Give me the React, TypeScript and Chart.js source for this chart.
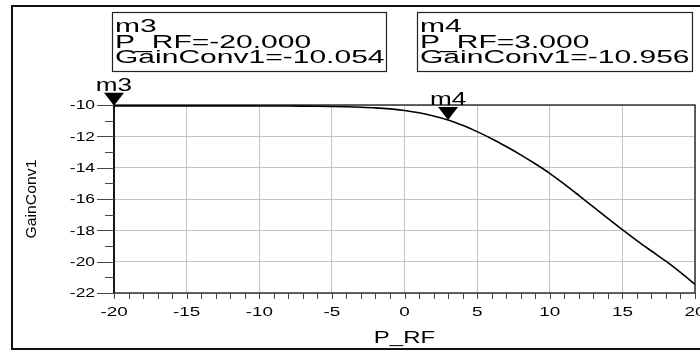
import { useEffect, useRef } from "react";
import { Chart, registerables } from "chart.js";

Chart.register(...registerables);

// Swept input power (dBm) and resulting conversion gain (dB)
const pRf = [
  -20, -19, -18, -17, -16, -15, -14, -13, -12, -11, -10, -9, -8, -7, -6, -5, -4, -3, -2, -1, 0,
  1, 2, 3, 4, 5, 6, 7, 8, 9, 10, 11, 12, 13, 14, 15, 16, 17, 18, 19, 20,
];
const gainConv1 = [
  -10.054, -10.054, -10.054, -10.054, -10.054, -10.055, -10.055, -10.056, -10.057, -10.058,
  -10.06, -10.062, -10.066, -10.072, -10.08, -10.093, -10.112, -10.14, -10.182, -10.25, -10.355,
  -10.5, -10.7, -10.956, -11.3, -11.7, -12.15, -12.65, -13.18, -13.75, -14.36, -15.05, -15.77,
  -16.5, -17.23, -17.96, -18.66, -19.32, -19.97, -20.69, -21.45,
];

// Markers placed on the trace
const markerNames = ["m3", "m4"];
const markerX = [-20, 3];
const markerY = [-10.054, -10.956];

// Axis ticks
const xTickValues = [-20, -15, -10, -5, 0, 5, 10, 15, 20];
const xMinorStep = 1;
const yTickValues = [-10, -12, -14, -16, -18, -20, -22];
const yMinorStep = 1;

const xTitle = "P_RF";
const yTitle = "GainConv1";

const FONT = '"Liberation Sans", Arial, sans-serif';

function wideText(
  ctx: CanvasRenderingContext2D,
  text: string,
  x: number,
  y: number,
  size: number,
  sx: number,
  align: CanvasTextAlign,
  baseline: CanvasTextBaseline = "alphabetic"
) {
  ctx.save();
  ctx.translate(x, y);
  ctx.scale(sx, 1);
  ctx.font = `${size}px ${FONT}`;
  ctx.textAlign = align;
  ctx.textBaseline = baseline;
  ctx.fillStyle = "#000";
  ctx.fillText(text, 0, 0);
  ctx.restore();
}

const decorations = {
  id: "adsDecorations",
  beforeDatasetsDraw(chart: any) {
    const { ctx, chartArea: a } = chart;
    ctx.save();
    ctx.strokeStyle = "#333";
    ctx.lineWidth = 1.5;
    ctx.strokeRect(a.left, a.top, a.right - a.left, a.bottom - a.top);
    ctx.restore();
  },
  afterDraw(chart: any) {
    const { ctx, chartArea: a, scales } = chart;
    const xs = scales.x;
    const ys = scales.y;

    ctx.save();
    // outer frame
    ctx.strokeStyle = "#111";
    ctx.lineWidth = 2;
    ctx.beginPath();
    ctx.moveTo(702, 6);
    ctx.lineTo(12, 6);
    ctx.lineTo(12, 349);
    ctx.lineTo(702, 349);
    ctx.stroke();

    // left axis line
    ctx.strokeStyle = "#000";
    ctx.lineWidth = 1.5;
    ctx.beginPath();
    ctx.moveTo(a.left, a.top);
    ctx.lineTo(a.left, a.bottom + 1);
    ctx.stroke();

    // y ticks
    ctx.strokeStyle = "#444";
    ctx.lineWidth = 1;
    for (let v = ys.min; v <= ys.max + 1e-9; v += yMinorStep) {
      const py = Math.round(ys.getPixelForValue(v)) + 0.5;
      const major = yTickValues.includes(v);
      ctx.beginPath();
      ctx.moveTo(a.left - (major ? 17 : 9), py);
      ctx.lineTo(a.left, py);
      ctx.stroke();
    }
    // x ticks
    for (let v = xs.min; v <= xs.max + 1e-9; v += xMinorStep) {
      const px = Math.round(xs.getPixelForValue(v)) + 0.5;
      ctx.beginPath();
      ctx.moveTo(px, a.bottom);
      ctx.lineTo(px, a.bottom + 6);
      ctx.stroke();
    }
    ctx.restore();

    // tick labels
    yTickValues.forEach((v) => {
      wideText(ctx, String(v), a.left - 19, ys.getPixelForValue(v) + 1, 12, 1.45, "right", "middle");
    });
    xTickValues.forEach((v) => {
      wideText(ctx, String(v), xs.getPixelForValue(v), a.bottom + 19, 13, 1.45, "center", "middle");
    });

    // axis titles
    wideText(ctx, xTitle, (a.left + a.right) / 2, 343, 16, 1.5, "center", "alphabetic");
    ctx.save();
    ctx.translate(36, (a.top + a.bottom) / 2);
    ctx.rotate(-Math.PI / 2);
    ctx.scale(1.05, 1);
    ctx.font = `15px ${FONT}`;
    ctx.textAlign = "center";
    ctx.textBaseline = "alphabetic";
    ctx.fillStyle = "#000";
    ctx.fillText(yTitle, 0, 0);
    ctx.restore();

    // markers: triangle, name and readout box
    const boxes = [
      { left: 112, right: 386 },
      { left: 417, right: 692 },
    ];
    markerNames.forEach((name, i) => {
      const px = xs.getPixelForValue(markerX[i]);
      const py = ys.getPixelForValue(markerY[i]);
      ctx.save();
      ctx.fillStyle = "#000";
      ctx.beginPath();
      ctx.moveTo(px, py);
      ctx.lineTo(px - 10, py - 13);
      ctx.lineTo(px + 10, py - 13);
      ctx.closePath();
      ctx.fill();
      ctx.restore();
      wideText(ctx, name, px, py - 15, 18, 1.45, "center", "alphabetic");

      const b = boxes[i];
      ctx.save();
      ctx.strokeStyle = "#222";
      ctx.lineWidth = 1.2;
      ctx.strokeRect(b.left + 0.5, 12.5, b.right - b.left, 59);
      ctx.restore();
      const lines = [
        name,
        `P_RF=${markerX[i].toFixed(3)}`,
        `GainConv1=${markerY[i].toFixed(3)}`,
      ];
      lines.forEach((t, k) => {
        wideText(ctx, t, b.left + 3, 32 + k * 15.7, 19, 1.58, "left", "alphabetic");
      });
    });
  },
};

export default function App() {
  const ref = useRef<HTMLCanvasElement | null>(null);

  useEffect(() => {
    if (!ref.current) return;
    const chart = new Chart(ref.current, {
      type: "line",
      data: {
        datasets: [
          {
            label: yTitle,
            data: pRf.map((x, i) => ({ x, y: gainConv1[i] })),
            borderColor: "#000",
            borderWidth: 1.6,
            pointRadius: 0,
            cubicInterpolationMode: "monotone",
            fill: false,
          },
        ],
      },
      options: {
        animation: false,
        responsive: false,
        devicePixelRatio: 1,
        layout: { padding: { left: 0, top: 105, right: 5, bottom: 0 } },
        plugins: { legend: { display: false }, tooltip: { enabled: false } },
        scales: {
          x: {
            type: "linear",
            min: -20,
            max: 20,
            afterFit: (s: any) => {
              s.height = 59;
            },
            ticks: { display: false, stepSize: 5 },
            grid: { color: "#c4c4c4", lineWidth: 1, drawTicks: false },
            border: { display: false },
          },
          y: {
            type: "linear",
            min: -22,
            max: -10,
            afterFit: (s: any) => {
              s.width = 114;
            },
            ticks: { display: false, stepSize: 2 },
            grid: { color: "#c4c4c4", lineWidth: 1, drawTicks: false },
            border: { display: false },
          },
        },
      },
      plugins: [decorations],
    });
    return () => chart.destroy();
  }, []);

  return (
    <div style={{ position: "fixed", left: 0, top: 0, width: 700, height: 352, background: "#fff" }}>
      <canvas ref={ref} width={700} height={352} style={{ display: "block" }} />
    </div>
  );
}
